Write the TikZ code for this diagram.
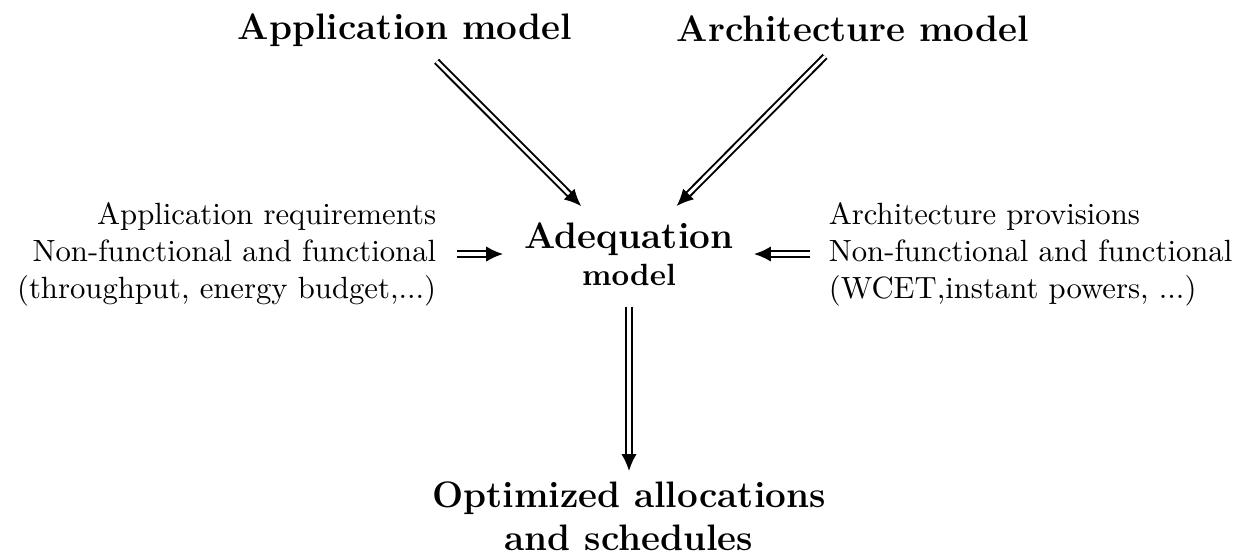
\documentclass[tikz,border=0pt]{standalone}
\usepackage{tikz}
\usetikzlibrary{arrows.meta, positioning}

\begin{document}
\begin{tikzpicture}[x=0.3257pt, y=-0.3257pt,
  title/.style={font=\large\bfseries},
  req/.style={align=#1, font=\normalsize},
  dblarrow/.style={double, double distance=1pt, line width=0.65pt, -{Latex[length=5.5pt, width=5pt]}}]
  \useasboundingbox (0,0) rectangle (1249,559);

  % Input models
  \node[title, anchor=base] (appmodel) at (405,39) {Application model};
  \node[title, anchor=base] (archmodel) at (853,41) {Architecture model};

  % Adequation
  \node[align=center, font=\bfseries] (adeq) at (629,254) {{\large Adequation}\\model};

  % Requirements and provisions
  \node[req=right, anchor=east] (appreq) at (447,254) {Application requirements\\Non-functional and functional\\(throughput, energy budget,...)};
  \node[req=left, anchor=west] (archprov) at (818,254) {Architecture provisions\\Non-functional and functional\\(WCET,instant powers, ...)};

  % Result
  \node[title, align=center, anchor=north] (optim) at (629,471) {Optimized allocations\\and schedules};

  % Arrows
  \draw[dblarrow, shorten <=2pt, shorten >=2.6pt] (appmodel) -- (adeq);
  \draw[dblarrow, shorten <=2pt, shorten >=2.6pt] (archmodel) -- (adeq);
  \draw[dblarrow, shorten <=3.2pt, shorten >=3.5pt] (appreq.east) -- (appreq.east -| adeq.west);
  \draw[dblarrow, shorten <=2.6pt, shorten >=3.2pt] (archprov.west) -- (archprov.west -| adeq.east);
  \draw[dblarrow, shorten <=3.4pt] (adeq) -- (optim);
\end{tikzpicture}
\end{document}
